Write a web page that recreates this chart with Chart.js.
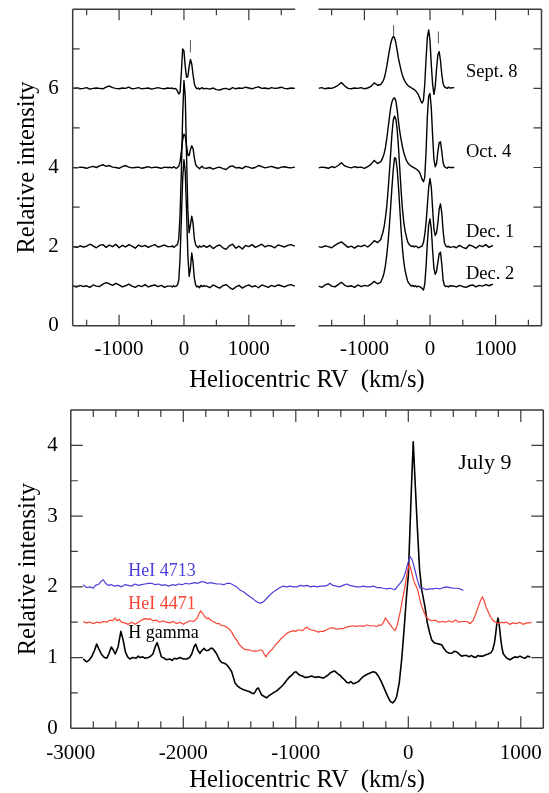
<!DOCTYPE html>
<html>
<head>
<meta charset="utf-8">
<script src="https://cdn.jsdelivr.net/npm/chart.js@4.4.0/dist/chart.umd.min.js"></script>
<style>
  body { margin: 0; background: #fff; }
  #page { position: relative; width: 549px; height: 793px; overflow: hidden; background: #fff; }
  canvas { position: absolute; }
  #topLeft { left: 0; top: 0; }
  #topRight { left: 300px; top: 0; }
  #bottom { left: 0; top: 395px; }
  .xtitle { position: absolute; left: 157px; width: 300px; top: 367px; text-align: center;
            font: 24.5px "Liberation Serif", "Times New Roman", serif; line-height: 1; color: #000; }
</style>
</head>
<body>
<div id="page">
  <canvas id="topLeft" width="300" height="395"></canvas>
  <canvas id="topRight" width="249" height="395"></canvas>
  <canvas id="bottom" width="549" height="400"></canvas>
  <div class="xtitle">Heliocentric RV&nbsp; (km/s)</div>
</div>
<script>
const serif = '"Liberation Serif", "Times New Roman", serif'
Chart.defaults.font.family = serif
Chart.defaults.color = "#000"

// ---- tick marks and labels
var topXMarks = [-1500, -1000, -500, 0, 500, 1000, 1500]
var topXLabels = [-1000, 0, 1000]
var topYMarks = [1, 2, 3, 4, 5, 6, 7]
var topYLabels = [0, 2, 4, 6]
var botXMarks = [-2800, -2600, -2400, -2200, -2000, -1800, -1600, -1400, -1200, -1000,
                 -800, -600, -400, -200, 0, 200, 400, 600, 800, 1000]
var botXLabels = [-3000, -2000, -1000, 0, 1000]
var botYMarks = [0.5, 1, 1.5, 2, 2.5, 3, 3.5, 4]
var botYLabels = [0, 1, 2, 3, 4]

// ---- top left panel (velocity grid shared by the four epochs)
var topLeftV = [
  -1710,-1650,-1600,-1550,-1500,-1450,-1400,-1350,-1300,-1250,
  -1200,-1150,-1100,-1050,-1000,-950,-900,-850,-800,-750,
  -700,-650,-600,-550,-500,-450,-400,-350,-300,-250,
  -200,-180,-160,-140,-120,-100,-80,-60,-40,-20,
  0,20,40,60,80,100,120,140,160,180,
  200,220,240,260,280,300,
  350,400,450,500,550,600,650,700,750,800,
  850,900,950,1000,1050,1100,1150,1200,1250,1300,
  1350,1400,1450,1500,1550,1600,1650,1710]
var sept8Left = [
  6.00,6.01,5.99,6.00,6.02,5.98,6.00,6.01,6.00,5.99,
  6.03,6.06,6.02,6.00,5.99,6.01,6.00,6.03,5.99,6.00,
  6.02,5.99,6.00,6.01,5.98,6.00,6.02,6.00,5.99,6.01,
  6.00,6.01,5.99,6.00,5.98,5.93,5.86,5.90,6.40,7.00,
  6.95,6.55,6.28,6.30,6.55,6.73,6.62,6.35,6.12,6.03,
  5.99,6.01,5.98,6.00,6.02,5.99,
  6.00,5.98,6.01,5.97,5.96,5.99,6.00,5.97,6.02,5.99,
  6.01,6.00,6.03,6.01,5.99,6.02,6.04,6.00,6.01,5.99,
  6.02,6.00,6.01,6.03,6.00,5.99,6.01,6.00]
var oct4Left = [
  4.00,3.99,4.01,4.00,3.98,4.01,4.03,4.00,4.04,4.07,
  4.03,4.05,4.01,4.00,3.98,4.02,4.05,4.01,3.99,4.00,
  4.01,3.98,4.00,4.02,3.99,4.01,4.00,3.98,4.01,4.00,
  4.00,3.99,4.02,4.00,3.98,4.00,4.03,4.15,4.40,4.70,
  4.84,4.80,4.55,4.32,4.30,4.45,4.55,4.48,4.25,4.08,
  4.02,4.00,3.97,4.01,4.03,3.99,
  3.98,4.00,3.96,3.99,4.01,3.97,3.95,4.02,4.04,3.99,
  4.00,3.97,4.03,4.01,3.98,4.00,4.05,4.02,3.99,4.01,
  4.03,4.00,3.98,4.01,4.02,4.00,3.99,4.01]
var dec1Left = [
  2.00,1.98,2.02,1.99,2.01,2.06,2.02,1.97,2.03,2.05,
  1.98,2.04,2.00,2.06,1.97,2.03,1.99,2.05,2.01,1.96,
  2.04,2.00,2.03,1.98,2.02,2.05,1.99,2.01,2.04,2.00,
  2.00,2.02,1.98,2.00,2.03,2.05,2.20,2.80,3.90,5.30,
  6.20,5.80,4.30,2.90,2.35,2.55,2.77,2.60,2.20,2.05,
  2.00,1.97,2.02,1.99,2.00,2.03,
  1.98,2.03,1.95,2.01,2.04,1.97,1.93,2.02,2.06,1.96,
  2.01,1.94,2.03,2.00,2.05,1.98,2.02,2.06,1.99,2.03,
  2.01,1.97,2.04,2.02,1.99,2.03,2.05,2.01]
var dec2Left = [
  1.00,0.98,1.02,0.99,1.01,0.97,1.03,1.00,0.99,1.05,
  1.09,1.06,1.02,1.07,1.03,0.98,1.01,1.05,1.00,0.97,
  1.02,0.99,1.04,0.98,1.01,1.03,0.99,1.02,0.97,1.00,
  1.00,0.98,1.01,0.99,1.00,1.03,1.15,1.70,2.70,3.70,
  4.20,3.90,2.90,1.80,1.25,1.45,1.84,1.60,1.20,1.03,
  0.98,1.00,0.96,1.02,0.99,1.01,
  1.00,0.96,1.03,0.99,0.95,1.01,1.04,0.97,0.92,0.98,
  1.02,0.95,1.00,1.03,0.98,1.01,0.96,1.03,1.00,0.97,
  1.02,0.99,1.03,1.01,0.98,1.02,1.04,1.00]

// ---- top right panel
var topRightV = [
  -1700,-1650,-1600,-1550,-1500,-1450,-1400,-1350,-1300,-1250,
  -1200,-1150,-1100,-1050,-1000,-950,-900,-850,-800,-750,
  -740,-720,-700,-680,-660,-640,-620,-600,-580,-560,
  -540,-520,-500,-480,-460,-440,-420,-400,-380,-360,
  -340,-320,-300,-280,-260,-240,-220,-200,-180,-160,
  -140,-120,-100,-80,-60,-40,-20,0,20,40,
  60,80,100,120,140,160,180,200,220,240,
  260,280,300,
  370,400,450,500,550,600,650,700,750,800,
  850,900,960]
var sept8Right = [
  6.00,6.02,5.99,6.01,6.00,6.03,6.08,6.15,6.06,6.00,
  5.99,6.01,6.00,6.02,5.99,6.01,6.05,6.14,6.08,6.10,
  6.13,6.17,6.25,6.38,6.55,6.75,6.95,7.13,7.25,7.31,
  7.28,7.15,6.95,6.75,6.60,6.45,6.33,6.24,6.17,6.12,
  6.08,6.05,6.03,6.01,5.99,5.97,5.94,5.90,5.85,5.77,
  5.68,5.63,5.70,6.10,6.75,7.30,7.48,7.20,6.60,6.10,
  5.85,6.05,6.50,6.85,6.93,6.70,6.35,6.12,6.04,6.02,
  6.00,6.03,6.01,
  6.02,null,null,null,null,null,null,null,null,null,
  null,null,null]
var oct4Right = [
  3.99,4.01,4.00,3.98,4.02,4.00,4.05,4.12,4.04,4.01,
  3.99,4.02,4.00,4.01,3.98,4.02,4.08,4.18,4.10,4.15,
  4.18,4.25,4.35,4.50,4.72,4.98,5.25,5.50,5.66,5.74,
  5.76,5.68,5.45,5.15,4.90,4.70,4.52,4.38,4.27,4.18,
  4.12,4.08,4.05,4.03,4.01,3.99,3.97,3.95,3.92,3.88,
  3.80,3.70,3.64,3.75,4.40,5.30,5.80,5.87,5.50,4.80,
  4.20,4.02,4.10,4.40,4.63,4.65,4.40,4.12,4.02,4.00,
  3.98,4.01,4.00,
  4.00,null,null,null,null,null,null,null,null,null,
  null,null,null]
var dec1Right = [
  2.00,1.98,2.02,2.00,1.97,2.03,2.08,2.12,2.05,1.98,
  2.01,1.96,2.02,2.00,2.04,1.99,2.06,2.15,2.10,2.18,
  2.25,2.35,2.50,2.72,3.00,3.40,3.85,4.35,4.85,5.20,
  5.30,5.22,4.95,4.50,3.95,3.40,2.95,2.62,2.40,2.25,
  2.12,2.06,2.03,2.00,2.02,1.99,2.01,2.00,1.97,1.98,
  2.00,2.02,2.10,2.30,2.60,3.05,3.50,3.72,3.50,2.95,
  2.45,2.28,2.35,2.60,2.95,3.08,2.85,2.40,2.10,2.02,
  1.99,2.01,1.98,
  2.00,1.97,2.03,1.98,1.95,2.04,2.01,1.96,2.03,2.00,
  2.05,1.98,2.03]
var dec2Right = [
  1.00,0.97,1.03,1.06,1.00,0.98,1.04,1.10,1.02,0.99,
  1.01,0.97,1.03,0.99,1.02,1.00,1.05,1.12,1.06,1.10,
  1.15,1.22,1.34,1.52,1.78,2.10,2.52,3.00,3.50,3.95,
  4.25,4.22,3.95,3.50,2.95,2.40,1.95,1.62,1.40,1.25,
  1.12,1.07,1.03,1.00,1.02,0.99,1.01,0.98,1.00,0.99,
  0.97,0.94,0.90,1.05,1.50,2.10,2.55,2.70,2.45,1.90,
  1.45,1.30,1.38,1.60,1.82,1.86,1.55,1.15,1.02,0.99,
  1.00,0.98,1.01,
  1.00,0.98,1.02,0.99,0.97,1.01,1.03,0.98,1.02,1.00,
  1.04,1.01,1.05]

// short vertical markers above the lines
var leftMarkV = [100]
var rightMarkV = [-555, 128]
var leftMarkLo = [6.91], leftMarkHi = [7.22]
var rightMarkLo = [7.29, 7.14], rightMarkHi = [7.60, 7.44]

var epochNames = ["Sept. 8", "Oct. 4", "Dec. 1", "Dec. 2"]
var epochNameY = [6.28, 4.27, 2.25, 1.18]

// ---- bottom panel, July 9
var hGammaV = [
  -2890,-2860,-2840,-2815,-2790,-2770,-2750,-2725,-2700,-2680,
  -2660,-2640,-2620,-2605,-2580,-2555,-2535,-2515,-2495,-2475,
  -2450,-2420,-2400,-2385,-2360,-2340,-2310,-2290,-2270,-2250,
  -2232,-2215,-2195,-2170,-2150,-2120,-2100,-2080,-2060,-2030,
  -2000,-1970,-1945,-1925,-1905,-1890,-1870,-1852,-1835,-1816,
  -1798,-1778,-1758,-1739,-1720,-1703,-1680,-1659,-1635,-1614,
  -1590,-1570,-1555,-1540,-1520,-1496,-1470,-1437,-1415,-1392,
  -1375,-1363,-1345,-1333,-1318,-1303,-1280,-1259,-1240,-1220,
  -1200,-1170,-1140,-1110,-1081,-1060,-1036,-1015,-998,-980,
  -963,-940,-920,-903,-880,-860,-844,-820,-800,-780,
  -755,-735,-715,-696,-675,-658,-640,-620,-607,-590,
  -570,-548,-530,-510,-489,-470,-444,-420,-400,-380,
  -355,-330,-311,-290,-267,-240,-207,-180,-160,-139,
  -120,-103,-80,-59,-35,-14,0,10,30,44,
  60,80,100,119,148,169,190,208,230,252,
  275,297,320,341,365,386,410,430,452,474,
  497,519,540,560,578,600,618,637,660,690,
  711,735,750,765,777,787,797,809,821,833,
  845,870,890,904,925,948,970,993,1015,1037,
  1060,1085]
var hGammaI = [
  0.98,0.94,0.96,1.01,1.10,1.19,1.12,1.04,1.00,0.99,
  1.06,1.15,1.10,1.05,1.15,1.37,1.25,1.08,1.01,0.98,
  1.00,0.99,1.02,1.00,1.01,0.99,1.00,1.02,1.05,1.15,
  1.21,1.12,1.01,0.99,0.97,0.98,0.96,0.99,0.98,1.00,
  0.98,0.98,1.00,1.05,1.15,1.19,1.10,1.06,1.10,1.13,
  1.10,1.10,1.13,1.13,1.09,1.05,0.97,0.93,0.92,0.90,
  0.85,0.80,0.72,0.64,0.60,0.57,0.55,0.53,0.52,0.50,
  0.49,0.51,0.56,0.57,0.52,0.47,0.45,0.43,0.46,0.48,
  0.50,0.53,0.57,0.62,0.68,0.72,0.75,0.79,0.80,0.77,
  0.75,0.74,0.72,0.72,0.73,0.74,0.73,0.72,0.73,0.72,
  0.71,0.73,0.75,0.78,0.80,0.81,0.79,0.76,0.75,0.72,
  0.69,0.65,0.64,0.66,0.63,0.64,0.66,0.70,0.73,0.75,
  0.77,0.79,0.80,0.79,0.74,0.66,0.54,0.44,0.38,0.36,
  0.39,0.45,0.65,0.97,1.45,1.91,2.15,2.60,3.50,4.05,
  3.50,2.85,2.25,1.96,1.72,1.49,1.35,1.25,1.21,1.20,
  1.19,1.18,1.12,1.08,1.06,1.06,1.09,1.08,1.05,1.02,
  1.03,1.03,1.01,1.03,1.01,1.00,1.03,1.02,1.02,1.04,
  1.05,1.07,1.11,1.20,1.34,1.48,1.56,1.45,1.27,1.13,
  1.05,1.00,0.98,0.97,0.99,1.01,1.00,1.02,1.00,0.99,
  1.02,1.01]
var he4471V = [
  -2890,-2860,-2830,-2800,-2770,-2740,-2710,-2680,-2650,-2630,
  -2607,-2590,-2570,-2550,-2520,-2490,-2460,-2428,-2400,-2370,
  -2340,-2310,-2296,-2270,-2240,-2210,-2180,-2150,-2120,-2090,
  -2060,-2030,-2000,-1970,-1940,-1910,-1880,-1860,-1846,-1830,
  -1810,-1790,-1775,-1750,-1720,-1703,-1680,-1660,-1640,-1614,
  -1590,-1570,-1550,-1526,-1500,-1481,-1460,-1440,-1422,-1400,
  -1380,-1348,-1330,-1303,-1285,-1265,-1250,-1230,-1214,-1190,
  -1170,-1155,-1130,-1100,-1081,-1060,-1040,-1022,-1000,-980,
  -963,-940,-920,-903,-880,-860,-830,-800,-780,-755,
  -730,-700,-690,-666,-640,-610,-577,-550,-520,-489,
  -460,-430,-400,-370,-340,-311,-280,-260,-237,-220,
  -204,-185,-163,-140,-118,-100,-74,-52,-30,-10,
  9,30,50,83,100,119,140,157,180,210,
  240,270,300,330,360,390,420,450,480,519,
  550,578,600,622,640,658,675,690,707,730,
  750,775,800,830,850,874,900,930,963,990,
  1020,1052,1075,1096]
var he4471I = [
  1.51,1.49,1.50,1.48,1.50,1.49,1.51,1.50,1.53,1.52,
  1.56,1.52,1.54,1.50,1.49,1.47,1.50,1.47,1.50,1.53,
  1.55,1.54,1.55,1.52,1.53,1.50,1.52,1.50,1.49,1.51,
  1.48,1.50,1.47,1.50,1.52,1.51,1.55,1.62,1.66,1.63,
  1.58,1.55,1.56,1.52,1.50,1.48,1.48,1.45,1.45,1.43,
  1.40,1.36,1.30,1.25,1.18,1.15,1.12,1.11,1.11,1.10,
  1.09,1.09,1.10,1.11,1.06,1.01,1.05,1.09,1.11,1.16,
  1.20,1.22,1.27,1.31,1.34,1.36,1.37,1.38,1.37,1.39,
  1.39,1.38,1.41,1.43,1.40,1.39,1.38,1.36,1.37,1.37,
  1.39,1.41,1.42,1.42,1.40,1.41,1.41,1.43,1.44,1.45,
  1.44,1.45,1.44,1.46,1.45,1.45,1.44,1.46,1.46,1.50,
  1.56,1.52,1.47,1.42,1.38,1.45,1.63,1.82,2.00,2.20,
  2.32,2.20,2.08,1.96,1.84,1.72,1.64,1.58,1.54,1.52,
  1.53,1.50,1.51,1.50,1.52,1.50,1.53,1.50,1.51,1.51,
  1.48,1.53,1.62,1.72,1.80,1.86,1.80,1.72,1.66,1.58,
  1.53,1.50,1.48,1.50,1.49,1.50,1.47,1.49,1.48,1.50,
  1.47,1.49,1.49,1.50]
var he4713V = [
  -2890,-2870,-2850,-2830,-2800,-2780,-2750,-2730,-2711,-2690,
  -2670,-2640,-2610,-2580,-2550,-2520,-2490,-2460,-2430,-2400,
  -2370,-2340,-2310,-2281,-2250,-2220,-2190,-2160,-2130,-2100,
  -2070,-2040,-2010,-1980,-1950,-1925,-1900,-1870,-1845,-1816,
  -1790,-1760,-1730,-1700,-1670,-1640,-1610,-1590,-1570,-1550,
  -1526,-1500,-1466,-1440,-1407,-1380,-1348,-1318,-1295,-1274,
  -1245,-1214,-1180,-1160,-1140,-1110,-1080,-1050,-1020,-990,
  -960,-930,-900,-870,-840,-810,-780,-750,-720,-696,
  -670,-640,-610,-580,-548,-520,-490,-460,-430,-400,
  -370,-340,-310,-280,-250,-222,-190,-160,-140,-118,
  -100,-74,-50,-30,-10,15,35,59,80,104,
  130,160,190,222,250,280,310,341,370,400,
  430,460,489]
var he4713I = [
  2.03,2.00,1.99,2.00,1.98,2.02,2.04,2.08,2.10,2.05,
  2.02,2.03,2.01,2.02,2.00,2.03,2.02,2.01,2.04,2.02,
  2.03,2.04,2.05,2.05,2.03,2.04,2.02,2.03,2.01,2.03,
  2.02,2.04,2.03,2.05,2.04,2.05,2.06,2.05,2.07,2.07,
  2.05,2.06,2.05,2.04,2.04,2.03,2.05,2.05,2.04,2.02,
  2.00,1.96,1.93,1.90,1.86,1.83,1.79,1.77,1.78,1.81,
  1.86,1.91,1.95,1.97,1.99,2.01,2.00,2.01,2.00,2.00,
  2.02,2.01,2.02,2.00,2.01,2.00,2.01,2.01,2.02,2.05,
  2.02,2.01,2.00,2.02,2.04,2.02,2.01,2.00,2.00,2.01,
  2.00,2.00,2.01,1.99,1.99,1.98,1.97,1.98,1.97,1.96,
  2.00,2.05,2.10,2.18,2.30,2.43,2.38,2.24,2.10,1.98,
  1.98,1.96,1.97,1.97,1.98,1.97,1.99,2.00,1.99,1.98,
  1.98,1.97,1.95]

var lineNames = ["HeI 4713", "HeI 4471", "H gamma"]
var lineNameY = [2.154, 1.683, 1.273]
var lineColors = ["#4b3fd9", "#f84434", "#000000"]

//pair up velocities and intensities
function toPoints(xs, ys){
    return xs.map((x, i) => ({x: x, y: ys[i]}))
}

function spectrum(xs, ys, color, width){
    return {
        data: toPoints(xs, ys),
        borderColor: color,
        borderWidth: width,
        pointRadius: 0,
        showLine: true,
        tension: 0,
        spanGaps: false,
        borderJoinStyle: "round"
    }
}

function markers(vs, lo, hi){
    return vs.map((v, i) => ({
        data: [{x: v, y: lo[i]}, {x: v, y: hi[i]}],
        borderColor: "#555",
        borderWidth: 1,
        pointRadius: 0,
        showLine: true
    }))
}

//axis box with inward ticks
const framePlugin = {
    id: "frame",
    afterDatasetsDraw(chart, args, opts){
        const {ctx, chartArea: a, scales} = chart
        const sides = opts.sides
        ctx.save()
        ctx.strokeStyle = "#3a3a3a"
        ctx.lineWidth = 1.5
        ctx.beginPath()
        if (sides.includes("left")) { ctx.moveTo(a.left, a.top); ctx.lineTo(a.left, a.bottom) }
        if (sides.includes("right")) { ctx.moveTo(a.right, a.top); ctx.lineTo(a.right, a.bottom) }
        ctx.moveTo(a.left, a.top); ctx.lineTo(a.right, a.top)
        ctx.moveTo(a.left, a.bottom); ctx.lineTo(a.right, a.bottom)
        ctx.stroke()
        ctx.lineWidth = 1.2
        ctx.beginPath()
        opts.xMarks.forEach(v => {
            const x = scales.x.getPixelForValue(v)
            const len = opts.xMajor.includes(v) ? opts.xLen[0] : opts.xLen[1]
            ctx.moveTo(x, a.bottom); ctx.lineTo(x, a.bottom - len)
            ctx.moveTo(x, a.top); ctx.lineTo(x, a.top + len)
        })
        opts.yMarks.forEach(v => {
            const y = scales.y.getPixelForValue(v)
            const len = opts.yMajor.includes(v) ? opts.yLen[0] : opts.yLen[1]
            if (sides.includes("left")) { ctx.moveTo(a.left, y); ctx.lineTo(a.left + len, y) }
            if (sides.includes("right")) { ctx.moveTo(a.right, y); ctx.lineTo(a.right - len, y) }
        })
        ctx.stroke()
        ctx.restore()
    }
}

//text placed at data coordinates
const notesPlugin = {
    id: "notes",
    afterDatasetsDraw(chart, args, opts){
        const {ctx, scales} = chart
        ctx.save()
        ctx.textAlign = "left"
        ctx.textBaseline = "alphabetic"
        for (let i = 0; i < opts.items.length; i++){
            const n = opts.items[i]
            ctx.font = n.font
            ctx.fillStyle = n.color
            ctx.fillText(n.text, scales.x.getPixelForValue(n.x), scales.y.getPixelForValue(n.y))
        }
        ctx.restore()
    }
}

//fixed axis size, no extra label overflow padding
function fixSize(prop, size){
    return s => {
        s[prop] = size
        s.paddingLeft = 0
        s.paddingRight = 0
        s.paddingTop = 0
        s.paddingBottom = 0
    }
}

//only the labelled ticks, the rest is drawn by the frame plugin
function onlyTicks(list){
    return s => { s.ticks = list.map(v => ({value: v})) }
}

function axis(min, max, labels, pad, sizeProp, size){
    return {
        type: "linear", min: min, max: max,
        grid: {display: false, drawTicks: false, tickLength: 0},
        border: {display: false},
        ticks: {autoSkip: false, maxRotation: 0, minRotation: 0, padding: pad,
                font: {family: serif, size: 21}, color: "#000", callback: v => String(v)},
        afterBuildTicks: onlyTicks(labels),
        afterFit: fixSize(sizeProp, size)
    }
}

function axisTitle(text, pad){
    return {display: true, text: text, color: "#000", font: {family: serif, size: 24.5}, padding: pad}
}

// top left
const tlX = axis(-1715, 1715, topXLabels, 11, "height", 69.3)
const tlY = axis(0, 8, topYLabels, 14, "width", 72.7)
tlY.title = axisTitle("Relative intensity", {top: 13, bottom: 0})
new Chart(document.getElementById("topLeft"), {
    type: "scatter",
    data: {
        datasets: [
            spectrum(topLeftV, sept8Left, "#000", 1.4),
            spectrum(topLeftV, oct4Left, "#000", 1.4),
            spectrum(topLeftV, dec1Left, "#000", 1.4),
            spectrum(topLeftV, dec2Left, "#000", 1.4)
        ].concat(markers(leftMarkV, leftMarkLo, leftMarkHi))
    },
    options: {
        responsive: false,
        animation: false,
        devicePixelRatio: 1,
        layout: {padding: {left: 0, top: 9.3, right: 4.8, bottom: 0}},
        scales: {x: tlX, y: tlY},
        plugins: {
            legend: {display: false},
            tooltip: {enabled: false},
            frame: {sides: ["left"], xMarks: topXMarks, xMajor: topXLabels, xLen: [11, 6],
                    yMarks: topYMarks, yMajor: [], yLen: [7, 7]},
            notes: {items: []}
        }
    },
    plugins: [framePlugin, notesPlugin]
})

// top right
const epochNotes = epochNames.map((t, i) => ({text: t, x: 549, y: epochNameY[i], color: "#000", font: "18.5px " + serif}))
new Chart(document.getElementById("topRight"), {
    type: "scatter",
    data: {
        datasets: [
            spectrum(topRightV, sept8Right, "#000", 1.4),
            spectrum(topRightV, oct4Right, "#000", 1.4),
            spectrum(topRightV, dec1Right, "#000", 1.4),
            spectrum(topRightV, dec2Right, "#000", 1.4)
        ].concat(markers(rightMarkV, rightMarkLo, rightMarkHi))
    },
    options: {
        responsive: false,
        animation: false,
        devicePixelRatio: 1,
        layout: {padding: {left: 18.5, top: 9.3, right: 7.5, bottom: 0}},
        scales: {
            x: axis(-1700, 1700, topXLabels, 11, "height", 69.3),
            y: {type: "linear", min: 0, max: 8, display: false}
        },
        plugins: {
            legend: {display: false},
            tooltip: {enabled: false},
            frame: {sides: ["right"], xMarks: topXMarks, xMajor: topXLabels, xLen: [11, 6],
                    yMarks: topYMarks, yMajor: [], yLen: [8, 8]},
            notes: {items: epochNotes}
        }
    },
    plugins: [framePlugin, notesPlugin]
})

// bottom
const lineNotes = lineNames.map((t, i) => ({text: t, x: -2490, y: lineNameY[i], color: lineColors[i], font: "18px " + serif}))
lineNotes.push({text: "July 9", x: 444, y: 3.66, color: "#000", font: "22px " + serif})
const bX = axis(-3000, 1200, botXLabels, 13, "height", 66.7)
bX.title = axisTitle("Heliocentric RV  (km/s)", {top: 0, bottom: 0})
const bY = axis(0, 4.5, botYLabels, 13, "width", 70.8)
bY.title = axisTitle("Relative intensity", {top: 13.6, bottom: 0})
new Chart(document.getElementById("bottom"), {
    type: "scatter",
    data: {
        datasets: [
            spectrum(he4713V, he4713I, lineColors[0], 1.2),
            spectrum(he4471V, he4471I, lineColors[1], 1.2),
            spectrum(hGammaV, hGammaI, lineColors[2], 1.6)
        ]
    },
    options: {
        responsive: false,
        animation: false,
        devicePixelRatio: 1,
        layout: {padding: {left: 0, top: 15, right: 5.7, bottom: 0}},
        scales: {x: bX, y: bY},
        plugins: {
            legend: {display: false},
            tooltip: {enabled: false},
            frame: {sides: ["left", "right"], xMarks: botXMarks, xMajor: botXLabels, xLen: [12, 7],
                    yMarks: botYMarks, yMajor: botYLabels, yLen: [12, 7]},
            notes: {items: lineNotes}
        }
    },
    plugins: [framePlugin, notesPlugin]
})
</script>
</body>
</html>
